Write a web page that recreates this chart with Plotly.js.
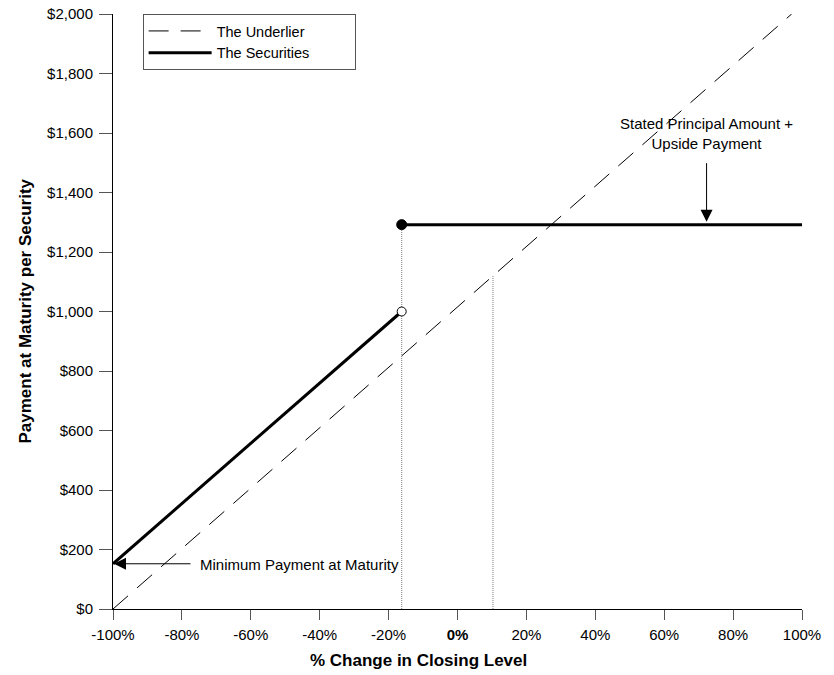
<!DOCTYPE html>
<html>
<head>
<meta charset="utf-8">
<script src="https://cdn.plot.ly/plotly-3.0.1.min.js"></script>
<style>html,body{margin:0;padding:0;background:#fff;}#chart{width:834px;height:675px;}</style>
</head>
<body>
<div id="chart"></div>
<script>
// ---- data ----
const xTickVals = [-100, -80, -60, -40, -20, 0, 20, 40, 60, 80, 100];
const xTickText = ['-100%', '-80%', '-60%', '-40%', '-20%', '<b>0%</b>', '20%', '40%', '60%', '80%', '100%'];
const yTickVals = [0, 200, 400, 600, 800, 1000, 1200, 1400, 1600, 1800, 2000];
const yTickText = ['$0', '$200', '$400', '$600', '$800', '$1,000', '$1,200', '$1,400', '$1,600', '$1,800', '$2,000'];

const underlierX = [-100, 97];
const underlierY = [0, 2000];

const securitiesX = [-100, -16.2, null, -16.2, 100];
const securitiesY = [152, 1000, null, 1292, 1292];

const openPointX = [-16.2];
const openPointY = [1000];
const filledPointX = [-16.2];
const filledPointY = [1292];

const thresholdX = [-16.2, -16.2];
const thresholdY = [0, 1292];
const refLineX = [10.3, 10.3];
const refLineY = [0, 1120];

const minPaymentX = -100, minPaymentY = 152;
const upsideX = 72.3, upsideY = 1292;

const FONT = 'Arial, "Liberation Sans", sans-serif';

const traces = [
  {x: underlierX, y: underlierY, mode: 'lines', name: 'The Underlier\u00a0\u00a0\u00a0\u00a0\u00a0\u00a0\u00a0\u00a0\u00a0\u00a0\u00a0',
   line: {color: '#000', width: 1, dash: '20px,12px'}, hoverinfo: 'skip'},
  {x: securitiesX, y: securitiesY, mode: 'lines', name: 'The Securities',
   line: {color: '#000', width: 3}, connectgaps: false, hoverinfo: 'skip'},
  {x: thresholdX, y: thresholdY, mode: 'lines', showlegend: false,
   line: {color: '#808080', width: 1, dash: '1px,1px'}, hoverinfo: 'skip'},
  {x: refLineX, y: refLineY, mode: 'lines', showlegend: false,
   line: {color: '#808080', width: 1, dash: '1px,1px'}, hoverinfo: 'skip'},
  {x: filledPointX, y: filledPointY, mode: 'markers', showlegend: false,
   marker: {color: '#000', size: 10, line: {color: '#000', width: 1}}, hoverinfo: 'skip'},
  {x: openPointX, y: openPointY, mode: 'markers', showlegend: false,
   marker: {color: '#fff', size: 9, line: {color: '#000', width: 1}}, hoverinfo: 'skip'}
];

const layout = {
  width: 834, height: 675,
  margin: {l: 113, r: 32, t: 14, b: 66},
  paper_bgcolor: '#fff', plot_bgcolor: '#fff',
  font: {family: FONT, size: 15, color: '#000'},
  showlegend: true,
  legend: {
    x: 0.043, y: 1.0, xanchor: 'left', yanchor: 'top',
    bgcolor: '#fff', bordercolor: '#555', borderwidth: 1,
    font: {family: FONT, size: 14.5, color: '#000'},
    itemwidth: 63, tracegroupgap: 0
  },
  xaxis: {
    range: [-100, 100], fixedrange: true,
    tickvals: xTickVals, ticktext: xTickText,
    ticks: 'outside', ticklen: 10, tickcolor: '#555', tickwidth: 1,
    ticklabelstandoff: 2,
    showline: true, linecolor: '#000', linewidth: 1,
    showgrid: false, zeroline: false,
    tickfont: {family: FONT, size: 15, color: '#000'}
  },
  yaxis: {
    range: [0, 2000], fixedrange: true,
    tickvals: yTickVals, ticktext: yTickText,
    ticks: 'outside', ticklen: 13, tickcolor: '#555', tickwidth: 1,
    ticklabelstandoff: 3,
    showline: true, linecolor: '#000', linewidth: 1,
    showgrid: false, zeroline: false,
    tickfont: {family: FONT, size: 15, color: '#000'}
  },
  annotations: [
    {xref: 'paper', yref: 'paper', x: 0.444, y: 0, yshift: -51, xanchor: 'center', yanchor: 'middle',
     text: '<b>% Change in Closing Level</b>', showarrow: false,
     font: {family: FONT, size: 17, color: '#000'}},
    {xref: 'paper', yref: 'paper', x: 0, xshift: -88, y: 0.5, xanchor: 'center', yanchor: 'middle',
     textangle: -90, text: '<b>Payment at Maturity per Security</b>', showarrow: false,
     font: {family: FONT, size: 17, color: '#000'}},
    {x: minPaymentX, y: minPaymentY, xref: 'x', yref: 'y', text: '', showarrow: true,
     axref: 'pixel', ayref: 'pixel', ax: 79, ay: 0,
     arrowhead: 2, arrowsize: 2.4, arrowwidth: 1, arrowcolor: '#000', standoff: 1},
    {x: minPaymentX, y: minPaymentY, xref: 'x', yref: 'y', text: 'Minimum Payment at Maturity',
     showarrow: false, xanchor: 'left', yanchor: 'middle', xshift: 85, yshift: -1,
     font: {family: FONT, size: 15, color: '#000'}},
    {x: upsideX, y: upsideY, xref: 'x', yref: 'y', text: '', showarrow: true,
     axref: 'pixel', ayref: 'pixel', ax: 0, ay: -63,
     arrowhead: 2, arrowsize: 2.4, arrowwidth: 1, arrowcolor: '#000', standoff: 3},
    {x: upsideX, y: upsideY, xref: 'x', yref: 'y', text: 'Stated Principal Amount +<br>Upside Payment',
     showarrow: false, xanchor: 'center', yanchor: 'middle', yshift: 91, align: 'center',
     font: {family: FONT, size: 15, color: '#000'}}
  ]
};

Plotly.newPlot('chart', traces, layout, {staticPlot: true, displayModeBar: false});
</script>
</body>
</html>
